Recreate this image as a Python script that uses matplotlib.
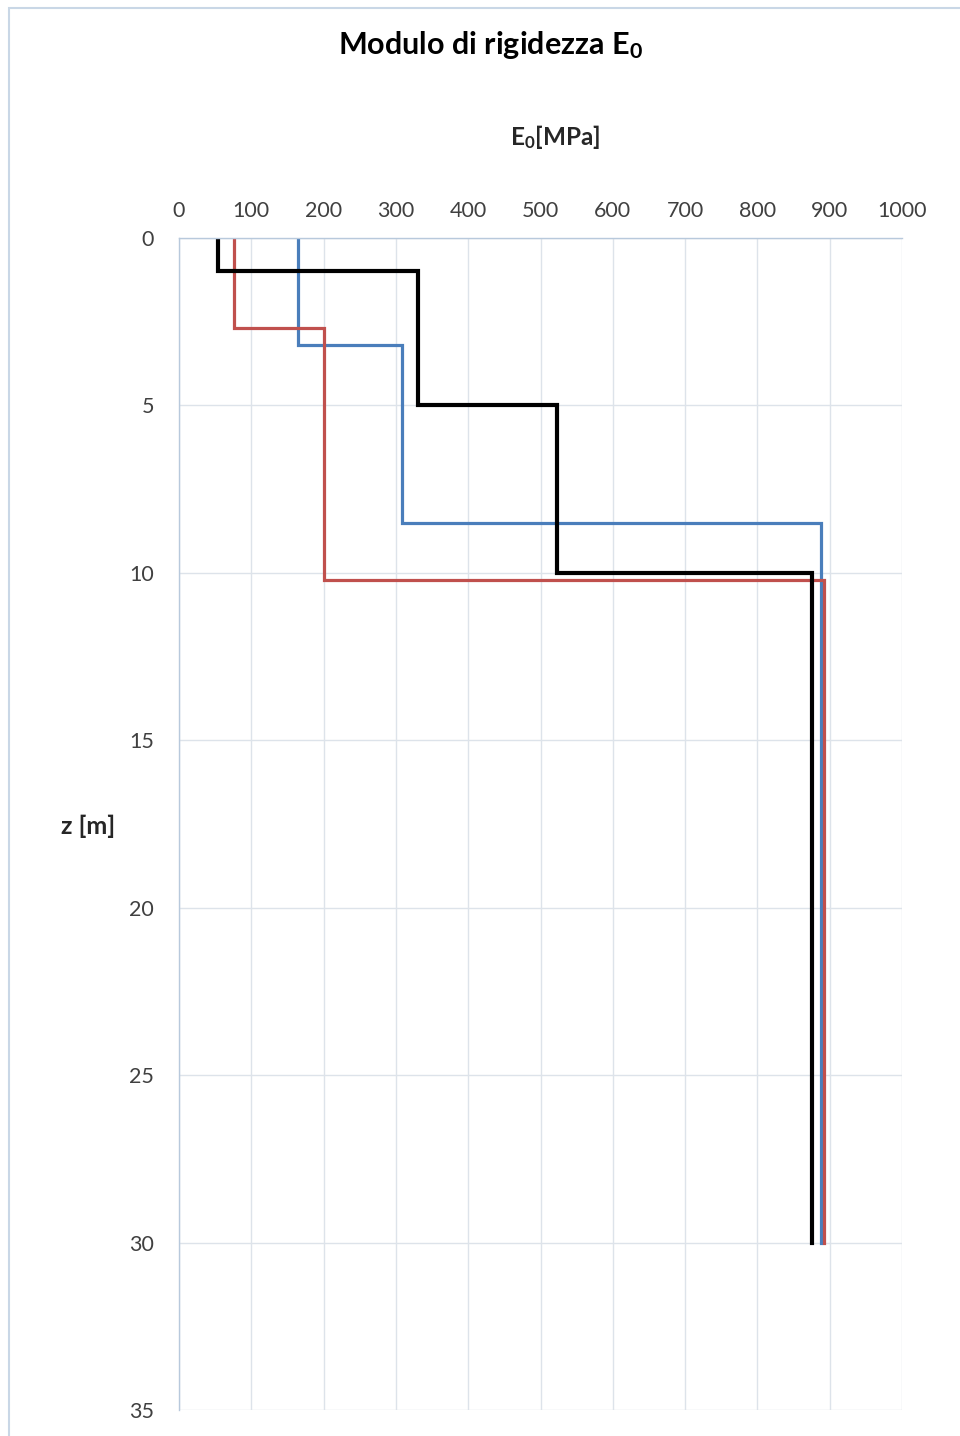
import matplotlib
matplotlib.use("Agg")
import matplotlib.pyplot as plt
from matplotlib.patches import Rectangle

plt.rcParams['font.family'] = ['Lato', 'DejaVu Sans']
plt.rcParams['mathtext.fontset'] = 'custom'
plt.rcParams['mathtext.rm'] = 'Lato'
plt.rcParams['mathtext.bf'] = 'Lato:bold'
plt.rcParams['mathtext.it'] = 'Lato:italic'

# Step profiles: E0 [MPa] vs depth z [m]
black_E = [54, 54, 331, 331, 523, 523, 875, 875]
black_z = [0, 1.0, 1.0, 5.0, 5.0, 10.0, 10.0, 30.0]
red_E = [76, 76, 201, 201, 892, 892]
red_z = [0, 2.7, 2.7, 10.2, 10.2, 30.0]
blue_E = [165, 165, 309, 309, 888, 888]
blue_z = [0, 3.2, 3.2, 8.5, 8.5, 30.0]

x_ticks = [0, 100, 200, 300, 400, 500, 600, 700, 800, 900, 1000]
y_ticks = [0, 5, 10, 15, 20, 25, 30, 35]

W, H = 960, 1436
fig = plt.figure(figsize=(W / 100, H / 100), dpi=100)
fig.patch.set_facecolor('white')

# chart border
fig.patches.append(Rectangle((9 / W, -0.01), 1.02, 1 - 8 / H + 0.01, transform=fig.transFigure,
                             fill=False, edgecolor='#c9d7e6', linewidth=1.5))

ax = fig.add_axes([179 / W, 1 - 1410 / H, (902 - 179) / W, (1410 - 238) / H])
ax.plot(blue_E, blue_z, color='#4a7ebb', lw=2.3, solid_joinstyle='miter')
ax.plot(red_E, red_z, color='#c0504d', lw=2.3, solid_joinstyle='miter')
ax.plot(black_E, black_z, color='black', lw=3.0, solid_joinstyle='miter')
ax.set_xlim(0, 1000)
ax.set_ylim(35, 0)
ax.set_xticks(x_ticks)
ax.set_yticks(y_ticks)
ax.xaxis.tick_top()
ax.tick_params(axis='both', length=0, labelsize=15.5, colors='#404040')
ax.tick_params(axis='x', pad=12)
ax.tick_params(axis='y', pad=18)
ax.grid(True, color='#dde3ea', lw=1)
ax.set_axisbelow(True)
for s in ['right', 'bottom']:
    ax.spines[s].set_visible(False)
for s in ['left', 'top']:
    ax.spines[s].set_color('#b8c9dc')
    ax.spines[s].set_linewidth(1)

fig.text(490 / W, 1 - 45 / H, r'Modulo di rigidezza E$_\mathbf{0}$', ha='center', va='center',
         fontsize=22, fontweight='bold', color='black')
fig.text(555 / W, 1 - 137 / H, r'E$_\mathbf{0}$[MPa]', ha='center', va='center',
         fontsize=17.5, fontweight='bold', color='#262626')
fig.text(88 / W, 1 - 826 / H, 'z [m]', ha='center', va='center',
         fontsize=18, fontweight='bold', color='#262626')

fig.savefig('out.png', dpi=100)
